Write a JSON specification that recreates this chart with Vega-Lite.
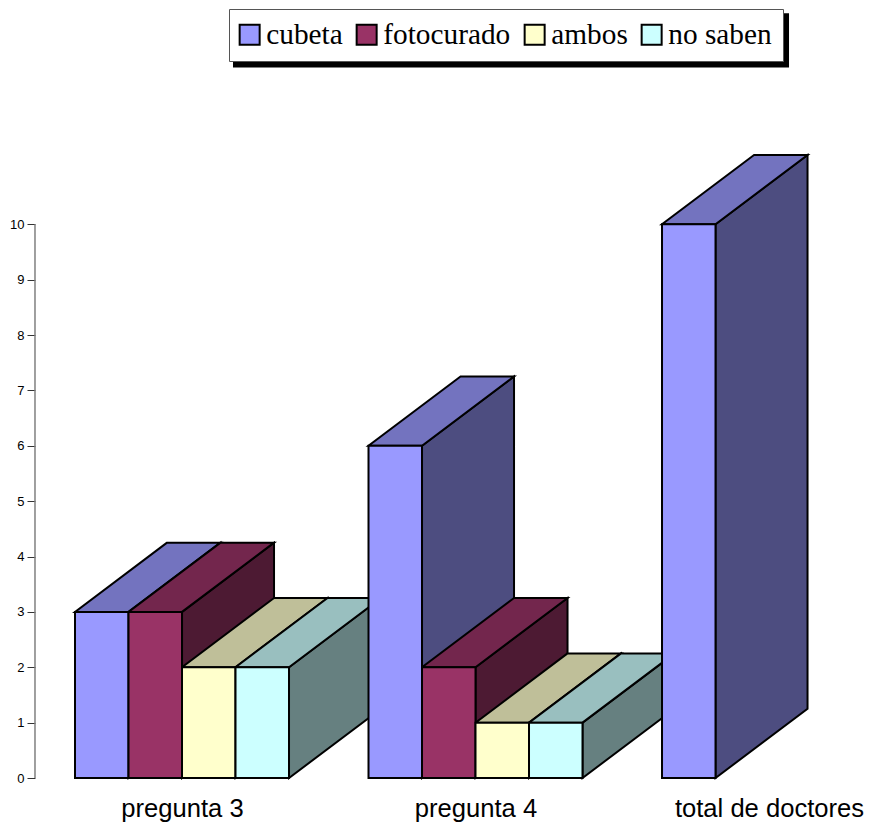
{
  "$schema": "https://vega.github.io/schema/vega-lite/v6.json",
  "width": 869,
  "height": 778,
  "autosize": "none",
  "padding": {"left": 0, "top": 0, "right": 0, "bottom": 47},
  "background": "white",
  "config": {"view": {"stroke": null}},
  "data": {
    "values": [
      {"grupo": "pregunta 3", "serie": "cubeta", "valor": 3},
      {"grupo": "pregunta 3", "serie": "fotocurado", "valor": 3},
      {"grupo": "pregunta 3", "serie": "ambos", "valor": 2},
      {"grupo": "pregunta 3", "serie": "no saben", "valor": 2},
      {"grupo": "pregunta 4", "serie": "cubeta", "valor": 6},
      {"grupo": "pregunta 4", "serie": "fotocurado", "valor": 2},
      {"grupo": "pregunta 4", "serie": "ambos", "valor": 1},
      {"grupo": "pregunta 4", "serie": "no saben", "valor": 1},
      {"grupo": "total de doctores", "serie": "cubeta", "valor": 10}
    ]
  },
  "transform": [
    {"calculate": "indexof(['pregunta 3','pregunta 4','total de doctores'], datum.grupo) * 5.486 + indexof(['cubeta','fotocurado','ambos','no saben'], datum.serie)", "as": "izq"},
    {"calculate": "datum.izq + 1", "as": "der"},
    {"calculate": "datum.grupo + '/' + datum.serie", "as": "barra"}
  ],
  "layer": [
    {
      "description": "Drop shadow behind the legend panel",
      "data": {"values": [{"panel": "sombra"}]},
      "transform": [],
      "mark": {"type": "rect", "color": "black"},
      "encoding": {
        "x": {"datum": 2.953, "type": "quantitative", "scale": {"domain": [-1.402, 14.841], "nice": false, "zero": false}},
        "x2": {"datum": 13.346},
        "y": {"datum": 13.81, "type": "quantitative", "scale": {"domain": [0, 14.05], "nice": false}},
        "y2": {"datum": 12.83}
      }
    },
    {
      "description": "Vertical axis line, running only over the labelled range",
      "data": {"values": [{"eje": "valor"}]},
      "transform": [],
      "mark": {"type": "rule", "color": "#808080", "strokeWidth": 1.5},
      "encoding": {
        "x": {"datum": -0.748, "type": "quantitative", "scale": {"domain": [-1.402, 14.841], "nice": false, "zero": false}},
        "y": {"datum": 0, "type": "quantitative", "scale": {"domain": [0, 14.05], "nice": false}},
        "y2": {"datum": 10}
      }
    },
    {
      "description": "Right-hand side face of each bar, receding into depth",
      "transform": [
        {"calculate": "[0, 1]", "as": "prof"},
        {"flatten": ["prof"]},
        {"calculate": "datum.der + datum.prof * 1.72", "as": "xl"},
        {"calculate": "datum.valor + datum.prof * 1.25", "as": "yl"},
        {"calculate": "datum.prof * 1.25", "as": "yb"}
      ],
      "mark": {"type": "area", "stroke": "black", "strokeWidth": 2, "opacity": 1, "interpolate": "linear"},
      "encoding": {
        "x": {"field": "xl", "type": "quantitative", "scale": {"domain": [-1.402, 14.841], "nice": false, "zero": false}},
        "y": {"field": "yl", "type": "quantitative", "scale": {"domain": [0, 14.05], "nice": false}},
        "y2": {"field": "yb"},
        "detail": {"field": "barra"},
        "fill": {"field": "serie", "type": "nominal", "legend": null, "scale": {"domain": ["cubeta", "fotocurado", "ambos", "no saben"], "range": ["#4d4d80", "#4d1a33", "#808066", "#668080"]}}
      }
    },
    {
      "description": "Top face of each bar",
      "transform": [
        {"calculate": "[0, 1]", "as": "prof"},
        {"flatten": ["prof"]},
        {"calculate": "datum.izq + datum.prof * 1.72", "as": "xa"},
        {"calculate": "datum.der + datum.prof * 1.72", "as": "xb"},
        {"calculate": "datum.valor + datum.prof * 1.25", "as": "yt"}
      ],
      "mark": {"type": "area", "orient": "horizontal", "stroke": "black", "strokeWidth": 2, "opacity": 1},
      "encoding": {
        "y": {"field": "yt", "type": "quantitative", "scale": {"domain": [0, 14.05], "nice": false}},
        "x": {"field": "xa", "type": "quantitative", "scale": {"domain": [-1.402, 14.841], "nice": false, "zero": false}},
        "x2": {"field": "xb"},
        "detail": {"field": "barra"},
        "fill": {"field": "serie", "type": "nominal", "legend": null, "scale": {"domain": ["cubeta", "fotocurado", "ambos", "no saben"], "range": ["#7373bf", "#73264d", "#bfbf99", "#99bfbf"]}}
      }
    },
    {
      "description": "Front face of each bar, carrying the axes and the legend",
      "mark": {"type": "rect", "stroke": "black", "strokeWidth": 2, "opacity": 1},
      "encoding": {
        "x": {
          "field": "izq", "type": "quantitative",
          "scale": {"domain": [-1.402, 14.841], "nice": false, "zero": false},
          "axis": {
            "title": null, "grid": false, "domain": false, "ticks": false,
            "values": [2, 7.486, 12.972],
            "labelExpr": "datum.value < 3 ? 'pregunta 3' : datum.value < 8 ? 'pregunta 4' : 'total de doctores'",
            "labelFont": "Liberation Sans", "labelFontSize": 25.6, "labelColor": "black", "labelPadding": 18,
            "labelFlush": false, "labelOverlap": false, "labelLimit": 400
          }
        },
        "x2": {"field": "der"},
        "y": {
          "field": "valor", "type": "quantitative",
          "scale": {"domain": [0, 14.05], "nice": false},
          "axis": {
            "title": null, "grid": false, "offset": -35, "domain": false, "format": "d",
            "values": [0, 1, 2, 3, 4, 5, 6, 7, 8, 9, 10],
            "tickColor": "#333333", "tickSize": 8, "tickWidth": 1,
            "labelFont": "Liberation Sans", "labelFontSize": 13, "labelColor": "black", "labelPadding": 3
          }
        },
        "y2": {"datum": 0},
        "fill": {
          "field": "serie", "type": "nominal",
          "scale": {"domain": ["cubeta", "fotocurado", "ambos", "no saben"], "range": ["#9999ff", "#993366", "#ffffcc", "#ccffff"]},
          "legend": {
            "title": null, "orient": "none", "legendX": 229, "legendY": 9, "direction": "horizontal", "columns": 4,
            "gridAlign": "none", "fillColor": "white", "strokeColor": "#555555", "padding": 11,
            "symbolType": "square", "symbolSize": 400, "symbolStrokeColor": "black", "symbolStrokeWidth": 2, "symbolOpacity": 1, "symbolOffset": -5,
            "labelFont": "Liberation Serif", "labelFontSize": 29.3, "labelColor": "black", "labelOffset": 2, "labelLimit": 0, "columnPadding": 9
          }
        }
      }
    }
  ],
  "resolve": {"scale": {"fill": "independent"}}
}
